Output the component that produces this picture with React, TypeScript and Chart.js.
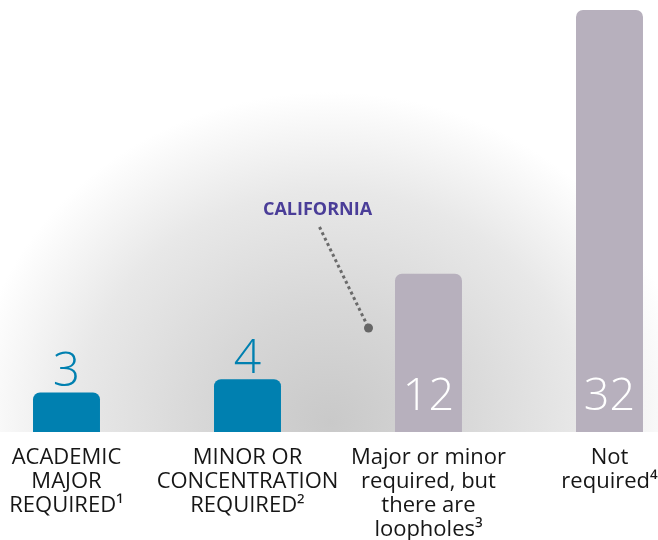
import React, { useEffect, useRef } from "react";
import { Chart, registerables } from "chart.js";

Chart.register(...registerables);

const categories: string[][] = [
  ["ACADEMIC", "MAJOR", "REQUIRED¹"],
  ["MINOR OR", "CONCENTRATION", "REQUIRED²"],
  ["Major or minor", "required, but", "there are", "loopholes³"],
  ["Not", "required⁴"],
];
const values: number[] = [3, 4, 12, 32];
const valueLabels: string[] = ["3", "4", "12", "32"];
const annotationText = "CALIFORNIA";

const BLUE = "#0080b0";
const GRAY = "#b7b0bd";
const FONT = "'Open Sans', 'Noto Sans', sans-serif";
const CANVAS_SHIFT = 24;
const CANVAS_W = 724;
const CANVAS_H = 558;

const backgroundPlugin = {
  id: "bgGradient",
  beforeDraw(chart: any) {
    const { ctx, chartArea } = chart;
    const cx = 330 + CANVAS_SHIFT;
    const cy = chartArea.bottom - 10;
    const rx = 360;
    const ry = 330;
    ctx.save();
    ctx.beginPath();
    ctx.rect(0, 0, chart.width, chartArea.bottom);
    ctx.clip();
    ctx.translate(cx, cy);
    ctx.scale(rx / ry, 1);
    const g = ctx.createRadialGradient(0, 0, 0, 0, 0, ry);
    g.addColorStop(0, "#c9c9c9");
    g.addColorStop(0.35, "#d7d7d7");
    g.addColorStop(0.7, "#e8e8e8");
    g.addColorStop(1, "#ffffff");
    ctx.fillStyle = g;
    ctx.fillRect(-ry * 2, -ry * 2, ry * 4, ry * 4);
    ctx.restore();
  },
};

const labelsPlugin = {
  id: "valueLabels",
  afterDatasetsDraw(chart: any) {
    const { ctx, chartArea } = chart;
    const meta = chart.getDatasetMeta(0);
    ctx.save();
    ctx.textAlign = "center";
    ctx.textBaseline = "alphabetic";
    meta.data.forEach((bar: any, i: number) => {
      if (i < 2) {
        ctx.fillStyle = BLUE;
        ctx.font = `300 48px ${FONT}`;
        ctx.fillText(valueLabels[i], bar.x, bar.y - 6);
      } else {
        ctx.fillStyle = "#ffffff";
        ctx.font = `300 45px ${FONT}`;
        ctx.fillText(valueLabels[i], bar.x, chartArea.bottom - 22);
      }
    });

    // annotation
    const xs = chart.scales.x;
    const dotX = xs.getPixelForValue(2) - 60;
    const dotY = chartArea.bottom - 104;
    const startX = dotX - 49;
    const startY = dotY - 101;
    ctx.strokeStyle = "#6a6a6a";
    ctx.lineWidth = 3;
    ctx.setLineDash([3, 3]);
    ctx.beginPath();
    ctx.moveTo(startX, startY);
    ctx.lineTo(dotX, dotY);
    ctx.stroke();
    ctx.setLineDash([]);
    ctx.fillStyle = "#666666";
    ctx.beginPath();
    ctx.arc(dotX, dotY, 4.5, 0, Math.PI * 2);
    ctx.fill();

    ctx.fillStyle = "#4a3d98";
    ctx.font = `bold 18px ${FONT}`;
    ctx.textBaseline = "alphabetic";
    ctx.fillText(annotationText, startX - 2, startY - 12);
    ctx.restore();
  },
};

export default function App() {
  const ref = useRef<HTMLCanvasElement | null>(null);
  useEffect(() => {
    if (!ref.current) return;
    const chart = new Chart(ref.current, {
      type: "bar",
      data: {
        labels: categories,
        datasets: [
          {
            data: values,
            backgroundColor: [BLUE, BLUE, GRAY, GRAY],
            borderRadius: { topLeft: 7, topRight: 7, bottomLeft: 0, bottomRight: 0 },
            borderSkipped: "bottom",
            barPercentage: 0.74,
            categoryPercentage: 0.5,
          },
        ],
      },
      options: {
        responsive: false,
        animation: false,
        layout: { padding: { top: 10, bottom: 2, left: 0, right: 0 } },
        plugins: { legend: { display: false }, tooltip: { enabled: false } },
        scales: {
          x: {
            grid: { display: false, drawTicks: false },
            border: { display: false },
            ticks: {
              padding: 14,
              color: "#161616",
              maxRotation: 0,
              autoSkip: false,
              font: { family: FONT, size: 22, lineHeight: 24 / 22 },
            },
          },
          y: {
            display: false,
            min: 0,
            max: 32,
          },
        },
      },
      plugins: [backgroundPlugin, labelsPlugin],
    });
    return () => chart.destroy();
  }, []);
  return (
    <div
      style={{
        position: "absolute",
        left: 0,
        top: 0,
        width: 658,
        height: 540,
        overflow: "hidden",
        background: "#ffffff",
      }}
    >
      <canvas
        ref={ref}
        width={CANVAS_W}
        height={CANVAS_H}
        style={{ position: "absolute", left: -CANVAS_SHIFT, top: 0, width: CANVAS_W, height: CANVAS_H }}
      />
    </div>
  );
}
